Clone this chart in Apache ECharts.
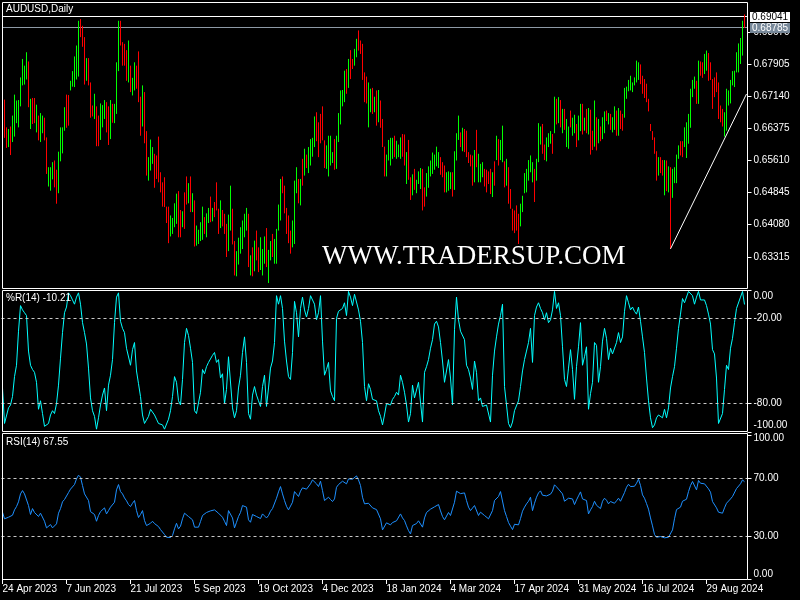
<!DOCTYPE html>
<html><head><meta charset="utf-8">
<script src="https://cdn.jsdelivr.net/npm/echarts@6/dist/echarts.min.js"></script>
<style>html,body{margin:0;padding:0;background:#000;}#c{width:800px;height:600px;}</style>
</head><body><div id="c"></div>
<script>
// ---- data (prices in 1/10000 units) ----
const tickLabels = ['24 Apr 2023','7 Jun 2023','21 Jul 2023','5 Sep 2023','19 Oct 2023','4 Dec 2023','18 Jan 2024','4 Mar 2024','17 Apr 2024','31 May 2024','16 Jul 2024','29 Aug 2024'];
const labelStep = 32;
const priceTicks = [0.63315,0.64080,0.64845,0.65610,0.66375,0.67140,0.67905,0.68670];
const highsPips = [
6688,6706,6640,6636,6642,6668,6718,6704,6705,6759,
6803,6787,6819,6797,6708,6710,6710,6694,6668,6674,
6668,6663,6616,6545,6545,6557,6561,6539,6582,6640,
6640,6688,6718,6717,6751,6774,6809,6835,6894,6898,
6882,6855,6805,6805,6747,6692,6720,6690,6668,6697,
6693,6705,6700,6690,6705,6696,6696,6795,6894,6894,
6843,6839,6824,6847,6787,6758,6795,6787,6821,6713,
6740,6724,6631,6569,6611,6593,6577,6573,6618,6533,
6509,6521,6451,6451,6430,6424,6459,6482,6488,6443,
6440,6485,6523,6507,6523,6483,6466,6406,6396,6414,
6451,6426,6435,6448,6475,6448,6462,6509,6446,6466,
6443,6434,6410,6432,6501,6446,6369,6345,6377,6402,
6418,6434,6448,6434,6335,6354,6370,6394,6354,6378,
6350,6380,6400,6348,6369,6386,6374,6398,6456,6517,
6523,6501,6448,6430,6394,6418,6513,6545,6517,6517,
6565,6589,6575,6593,6612,6615,6666,6676,6652,6672,
6690,6609,6597,6620,6620,6581,6612,6620,6674,6728,
6729,6775,6779,6803,6824,6803,6827,6851,6871,6847,
6839,6771,6761,6747,6732,6734,6713,6728,6729,6704,
6660,6594,6575,6610,6615,6615,6620,6608,6599,6616,
6624,6623,6581,6610,6521,6528,6541,6515,6535,6543,
6541,6497,6531,6547,6561,6580,6575,6594,6581,6569,
6557,6549,6533,6535,6533,6533,6583,6626,6668,6628,
6639,6636,6632,6581,6575,6573,6586,6634,6577,6553,
6557,6541,6539,6535,6541,6533,6559,6620,6612,6610,
6644,6559,6565,6545,6493,6446,6442,6454,6434,6458,
6477,6531,6541,6562,6573,6557,6541,6565,6650,6642,
6648,6599,6616,6626,6631,6624,6713,6708,6712,6705,
6684,6684,6660,6642,6680,6663,6670,6648,6668,6696,
6696,6663,6684,6686,6682,6632,6704,6664,6660,6642,
6664,6678,6680,6674,6672,6664,6690,6680,6686,6680,
6672,6734,6737,6753,6763,6747,6759,6799,6795,6790,
6763,6755,6744,6708,6648,6631,6616,6583,6569,6569,
6562,6562,6561,6547,6545,6541,6545,6575,6597,6607,
6607,6640,6652,6672,6732,6753,6761,6751,6799,6797,
6795,6815,6823,6817,6795,6755,6759,6771,6747,6692,
6684,6676,6732,6728,6753,6774,6775,6819,6840,6853,
6894,6909];
const lowsPips = [
6616,6615,6591,6593,6574,6605,6618,6650,6640,6690,
6740,6742,6754,6688,6636,6648,6650,6628,6609,6605,
6626,6609,6529,6499,6489,6516,6497,6458,6483,6559,
6578,6632,6639,6644,6728,6737,6736,6754,6761,6855,
6832,6742,6751,6740,6663,6666,6660,6595,6595,6610,
6640,6660,6628,6598,6612,6651,6650,6672,6774,6835,
6787,6787,6751,6747,6724,6716,6728,6732,6700,6620,
6642,6602,6525,6513,6537,6553,6496,6517,6509,6485,
6451,6450,6412,6364,6380,6386,6402,6410,6378,6378,
6402,6398,6456,6459,6438,6438,6356,6358,6362,6369,
6372,6386,6378,6412,6414,6416,6426,6442,6386,6400,
6404,6386,6331,6345,6394,6361,6287,6285,6313,6339,
6350,6378,6394,6307,6287,6285,6297,6323,6295,6300,
6287,6315,6307,6269,6323,6331,6315,6315,6394,6418,
6483,6435,6386,6364,6339,6354,6362,6483,6459,6454,
6501,6525,6543,6531,6549,6570,6593,6607,6569,6602,
6609,6543,6541,6523,6549,6555,6539,6541,6605,6647,
6690,6700,6720,6734,6755,6779,6787,6807,6823,6815,
6753,6700,6697,6640,6676,6672,6676,6644,6652,6639,
6593,6523,6523,6561,6549,6565,6569,6565,6569,6565,
6570,6549,6505,6515,6467,6478,6491,6483,6505,6493,
6442,6451,6475,6496,6523,6529,6539,6547,6543,6527,
6521,6485,6485,6489,6493,6475,6491,6561,6610,6593,
6583,6581,6569,6555,6547,6501,6509,6545,6509,6509,
6521,6499,6485,6505,6481,6474,6501,6562,6549,6562,
6557,6497,6501,6458,6446,6394,6388,6394,6362,6404,
6438,6483,6485,6513,6533,6509,6462,6513,6557,6599,
6577,6562,6559,6593,6601,6577,6626,6647,6650,6640,
6626,6634,6593,6589,6640,6620,6626,6593,6609,6631,
6623,6632,6626,6623,6575,6586,6594,6585,6602,6607,
6612,6626,6655,6647,6634,6628,6634,6620,6620,6636,
6632,6663,6708,6726,6728,6724,6740,6747,6753,6743,
6720,6710,6700,6678,6631,6610,6577,6513,6525,6531,
6525,6478,6488,6485,6350,6472,6507,6507,6565,6573,
6569,6593,6567,6601,6639,6712,6732,6696,6696,6763,
6758,6767,6775,6751,6753,6684,6712,6724,6660,6652,
6642,6618,6632,6692,6697,6740,6736,6771,6771,6791,
6811,6877];
// g = bullish bar, r = bearish bar
const direction =
'rrrgrggggg'+'gggrgrrgrg'+'grrgggrrgg'+'ggrrgggggr'+'rrgrrrgrrg'+'ggrrgrgggr'+'rrrgrggrrr'+'grrgggrrrr'+
'rrrrggggrr'+'grrgrgrggg'+'grggrgrrrg'+'rrrggrrggg'+'gggrgrgrrg'+'ggrggrgggg'+'rrrrrgggrg'+'rgrggggrrr'+
'rrggggrggg'+'ggrgrrggrr'+'rrrggrgrgr'+'rrggggrggg'+'rrgrrgrggg'+'rrgggggggr'+'rrgggrgggr'+'grrrrrgrgg'+
'grrrrgrgrg'+'grgrrrrrrg'+'ggggggrggg'+'rrgggrgrgr'+'grggrggrgg'+'rgrgrrgrgr'+'ggrgrggrgr'+'rggggggggr'+
'rrrrrrrrgr'+'rgrgrggggr'+'rggggggrgr'+'rggrrrrrrr'+'rggggggggg'+'gr';
const willR = [
-69,-94,-93,-83,-81,-75,-61,-53,-29,-11,
-14,-16,-18,-43,-53,-56,-58,-65,-84,-78,
-87,-96,-97,-94,-88,-85,-87,-80,-67,-48,
-30,-16,-12,-2,-4,-7,-10,-5,-2,-10,
-23,-30,-38,-55,-76,-85,-89,-98,-90,-81,
-74,-69,-85,-67,-60,-49,-23,-5,-2,-22,
-27,-30,-41,-40,-53,-42,-37,-57,-66,-75,
-88,-94,-93,-89,-84,-83,-88,-91,-94,-94,
-95,-98,-97,-91,-85,-75,-61,-65,-78,-81,
-63,-37,-27,-32,-41,-51,-85,-87,-87,-72,
-56,-59,-54,-51,-51,-46,-44,-51,-49,-62,
-59,-80,-70,-47,-47,-83,-90,-85,-69,-60,
-44,-33,-51,-87,-91,-74,-68,-74,-78,-82,
-68,-60,-82,-69,-55,-50,-37,-4,-10,-4,
-13,-36,-50,-61,-63,-44,-8,-16,-33,-13,
-5,-14,-19,-13,-4,-4,-10,-21,-16,-4,
-36,-60,-56,-51,-71,-75,-78,-20,-15,-14,
-13,-9,-18,-1,-5,-11,-3,-2,-14,-22,
-37,-68,-78,-66,-70,-77,-77,-78,-85,-89,
-95,-88,-80,-80,-81,-77,-75,-72,-74,-60,
-65,-72,-81,-93,-87,-67,-76,-75,-65,-65,
-93,-58,-54,-49,-41,-35,-24,-22,-26,-37,
-50,-65,-64,-49,-62,-81,-28,-5,-21,-29,
-30,-35,-53,-56,-62,-70,-50,-58,-78,-76,
-82,-82,-81,-80,-93,-60,-43,-33,-24,-18,
-10,-68,-68,-94,-97,-93,-85,-85,-78,-68,
-57,-49,-43,-37,-27,-51,-18,-12,-9,-13,
-16,-21,-16,-23,-21,-14,-1,-13,-9,-18,
-40,-63,-68,-55,-42,-56,-77,-54,-40,-23,
-53,-47,-40,-84,-73,-65,-37,-39,-65,-54,
-36,-27,-34,-49,-41,-45,-44,-37,-30,-37,
-33,-15,-4,-9,-14,-12,-15,-17,-12,-22,
-33,-44,-62,-78,-90,-97,-95,-90,-88,-89,
-90,-84,-90,-83,-69,-61,-54,-41,-27,-17,
-6,-9,-9,-1,-2,-4,-10,-5,-1,-7,
-7,-7,-11,-17,-24,-42,-45,-62,-94,-93,
-87,-70,-53,-56,-41,-34,-23,-13,-14,-5,
-1,-10.21];
const rsi = [
46.4,41.8,41.1,42.9,42.0,44.3,48.0,50.3,53.6,59.1,
61.4,59.1,58.0,51.0,44.8,48.9,46.2,45.2,43.4,45.7,
46.2,40.1,35.5,35.0,37.8,35.5,36.0,38.3,45.7,48.9,
53.6,55.2,55.9,60.0,62.4,63.3,65.6,69.5,72.1,70.7,
64.9,59.1,58.7,54.5,46.8,46.4,44.8,40.1,44.1,46.8,
47.5,49.4,45.2,47.5,49.9,51.0,53.3,61.9,65.6,60.7,
59.1,56.3,54.3,51.7,50.3,52.6,54.5,47.5,42.7,44.8,
47.5,40.6,37.1,37.8,38.7,40.1,38.5,37.6,36.4,34.3,
33.2,30.9,29.0,28.1,28.8,30.2,34.8,38.7,34.8,36.7,
41.8,45.7,45.0,43.4,43.8,41.1,36.0,36.0,36.0,39.9,
44.1,45.0,46.2,46.4,47.3,46.4,48.0,48.9,45.7,46.2,
42.9,40.1,37.1,47.5,48.0,42.4,35.5,39.4,43.4,46.2,
51.0,52.2,49.9,41.1,39.4,44.8,44.8,43.4,42.4,42.0,
45.2,45.2,42.4,44.1,47.1,48.9,49.9,56.1,60.5,64.2,
59.1,54.5,50.5,48.0,47.5,53.3,60.7,59.6,57.3,61.0,
63.3,62.4,62.4,63.7,66.1,68.8,69.5,66.1,64.2,67.9,
61.4,54.5,54.3,56.8,55.2,53.8,55.6,63.7,65.6,66.1,
67.9,68.8,66.1,69.5,70.0,69.3,70.0,71.6,68.8,64.9,
56.8,52.2,52.6,52.6,51.7,49.4,49.2,48.2,47.1,41.8,
34.1,34.6,39.0,40.1,37.6,39.2,39.4,40.4,40.6,45.2,
42.4,40.6,36.9,33.6,31.3,37.1,36.7,38.5,40.4,39.4,
36.0,42.4,46.2,47.5,48.5,49.6,50.1,51.0,51.7,47.3,
43.4,41.1,42.4,46.2,44.1,44.1,53.3,61.0,61.2,59.3,
59.1,59.8,54.5,49.9,47.5,46.4,51.0,52.2,44.1,46.4,
46.2,44.1,42.9,41.8,40.6,47.5,54.5,54.9,57.3,60.7,
61.4,47.5,43.4,39.2,36.7,34.3,38.0,37.6,37.6,42.0,
47.1,49.9,52.2,54.0,56.8,47.5,52.6,56.8,59.8,61.2,
58.2,59.1,57.7,58.0,58.9,61.0,65.4,64.0,62.4,62.4,
59.1,54.0,53.3,56.1,57.3,55.6,51.7,54.9,57.7,60.5,
55.6,55.4,54.5,45.2,48.0,50.3,54.0,51.2,49.9,48.9,
54.0,56.1,54.7,52.2,53.8,52.6,52.6,54.3,56.1,54.0,
54.5,60.0,63.7,65.8,64.2,63.7,64.4,66.5,69.3,64.9,
58.4,56.1,52.4,48.5,42.4,36.9,30.9,29.0,29.5,29.5,
29.9,28.6,27.9,29.0,29.5,34.1,41.8,48.2,47.5,49.9,
54.0,53.1,55.4,60.7,64.9,67.7,68.1,61.9,68.4,66.5,
66.1,66.1,65.6,62.6,60.3,53.8,54.5,49.4,46.4,45.2,
45.7,49.4,52.6,53.3,55.6,57.3,58.2,62.8,63.7,66.1,
68.8,67.55];
const bidPrice = 0.69041;
const hLinePrice = 0.68785;
const trendX = [334, 372];
const trendY = [0.63505, 0.67195];
const wrLevels = [-20, -80];
const rsiLevels = [70, 30];

// ---- chart ----
const FONT = "'Liberation Sans', Arial, sans-serif";
const MAIN_MIN = 0.625713, MAIN_MAX = 0.693873;
const N = highsPips.length;
const cats = [];
for (let i = 0; i <= N; i++) cats.push(String(i));
const candles = highsPips.map((h, i) => {
  const hi = h / 10000, lo = lowsPips[i] / 10000;
  return direction[i] === 'g' ? [lo, hi, lo, hi] : [hi, lo, lo, hi];
});

function xAx(gi, show) {
  return {
    type: 'category', gridIndex: gi, data: cats, boundaryGap: true, show: show,
    axisLine: {show: false},
    axisTick: {show: show, interval: labelStep - 1, alignWithLabel: true, length: 5, lineStyle: {color: '#fff'}},
    axisLabel: {show: show, interval: labelStep - 1, align: 'left', margin: 5, color: '#fff', fontSize: 10, fontFamily: FONT,
      formatter: (v, idx) => tickLabels[Math.round(idx / labelStep)] || ''},
    splitLine: {show: false}
  };
}
function yLab(custom, fmt) {
  return {customValues: custom, formatter: fmt, color: '#fff', fontSize: 10, fontFamily: FONT, margin: 6};
}
function yTick(custom) {
  return {show: true, length: 4, customValues: custom, lineStyle: {color: '#fff'}};
}
const levelLine = (vals) => ({
  symbol: ['none', 'none'], silent: true, animation: false,
  label: {show: false},
  lineStyle: {color: '#C8C8C8', type: [3, 3], width: 1},
  data: vals.map(v => ({yAxis: v}))
});

const baseGraphics = [
  {type: 'rect', z: 100, silent: true, shape: {x: 2.5, y: 2.5, width: 745, height: 286}, style: {fill: null, stroke: '#fff', lineWidth: 1}},
  {type: 'rect', z: 100, silent: true, shape: {x: 2.5, y: 290.5, width: 745, height: 141}, style: {fill: null, stroke: '#fff', lineWidth: 1}},
  {type: 'rect', z: 100, silent: true, shape: {x: 2.5, y: 433.5, width: 745, height: 146}, style: {fill: null, stroke: '#fff', lineWidth: 1}},
  {type: 'text', z: 100, silent: true, style: {x: 6, y: 4, text: 'AUDUSD,Daily', fill: '#fff', font: '10px ' + FONT, verticalAlign: 'top'}},
  {type: 'text', z: 100, silent: true, style: {x: 6, y: 293, text: '%R(14) -10.21', fill: '#fff', font: '10px ' + FONT, verticalAlign: 'top'}},
  {type: 'text', z: 100, silent: true, style: {x: 6, y: 437, text: 'RSI(14) 67.55', fill: '#fff', font: '10px ' + FONT, verticalAlign: 'top'}},
  {type: 'text', z: 1, silent: true, style: {x: 322, y: 257, text: 'WWW.TRADERSUP.COM', fill: '#fff', font: "27px 'Liberation Serif', 'Times New Roman', serif", verticalAlign: 'middle'}}
];

const chart = echarts.init(document.getElementById('c'), null, {renderer: 'canvas'});
chart.setOption({
  backgroundColor: '#000',
  animation: false,
  grid: [
    {left: 1.5, top: 2, width: 746, height: 286, outerBoundsMode: 'none'},
    {left: 1.5, top: 290, width: 746, height: 142, outerBoundsMode: 'none'},
    {left: 1.5, top: 435, width: 746, height: 144, outerBoundsMode: 'none'}
  ],
  xAxis: [xAx(0, false), xAx(1, false), xAx(2, true)],
  yAxis: [
    {gridIndex: 0, type: 'value', position: 'right', min: MAIN_MIN, max: MAIN_MAX,
      axisLine: {show: false}, splitLine: {show: false},
      axisTick: yTick(priceTicks), axisLabel: yLab(priceTicks, v => v.toFixed(5))},
    {gridIndex: 1, type: 'value', position: 'right', min: -100, max: 0,
      axisLine: {show: false}, splitLine: {show: false},
      axisTick: yTick([0, -20, -80, -100]),
      axisLabel: yLab([-4.1, -20, -80, -95.4], v => (v > -10 ? 0 : (v < -90 ? -100 : v)).toFixed(2))},
    {gridIndex: 2, type: 'value', position: 'right', min: 0, max: 100,
      axisLine: {show: false}, splitLine: {show: false},
      axisTick: yTick([100, 70, 30, 0]),
      axisLabel: yLab([97.4, 70, 30, 3.1], v => (v > 90 ? 100 : (v < 10 ? 0 : v)).toFixed(2))}
  ],
  series: [
    {type: 'candlestick', xAxisIndex: 0, yAxisIndex: 0, data: candles,
      large: true, largeThreshold: 50, silent: true, z: 3,
      itemStyle: {color: '#00FF00', color0: '#FF0000', borderColor: '#00FF00', borderColor0: '#FF0000', borderWidth: 1}},
    {type: 'line', xAxisIndex: 0, yAxisIndex: 0, data: trendX.map((x, i) => [x, trendY[i]]),
      symbol: 'none', silent: true, lineStyle: {color: '#fff', width: 1}, z: 4},
    {type: 'line', xAxisIndex: 1, yAxisIndex: 1, data: willR, symbol: 'none', silent: true,
      lineStyle: {color: '#00FFFF', width: 1}, markLine: levelLine(wrLevels)},
    {type: 'line', xAxisIndex: 2, yAxisIndex: 2, data: rsi, symbol: 'none', silent: true,
      lineStyle: {color: '#1E90FF', width: 1}, markLine: levelLine(rsiLevels)}
  ],
  graphic: baseGraphics
});

// horizontal price lines (bid line and a user horizontal line) placed through the price scale
function priceLine(price, lineColor, boxColor, textColor) {
  const y = Math.floor(chart.convertToPixel({yAxisIndex: 0}, price)) + 0.5;
  return [
    {type: 'line', z: 1, silent: true, shape: {x1: 3, y1: y, x2: 747, y2: y}, style: {stroke: lineColor, lineWidth: 1}},
    {type: 'rect', z: 110, silent: true, shape: {x: 750, y: y - 4.5, width: 40, height: 10}, style: {fill: boxColor}},
    {type: 'text', z: 111, silent: true, style: {x: 752, y: y + 0.5, text: price.toFixed(5), fill: textColor, font: '10px ' + FONT, verticalAlign: 'middle'}}
  ];
}
chart.setOption({
  graphic: baseGraphics
    .concat(priceLine(bidPrice, '#FFFFFF', '#FFFFFF', '#000000'))
    .concat(priceLine(hLinePrice, '#8E9AA6', '#778899', '#FFFFFF'))
});
</script>
</body></html>
